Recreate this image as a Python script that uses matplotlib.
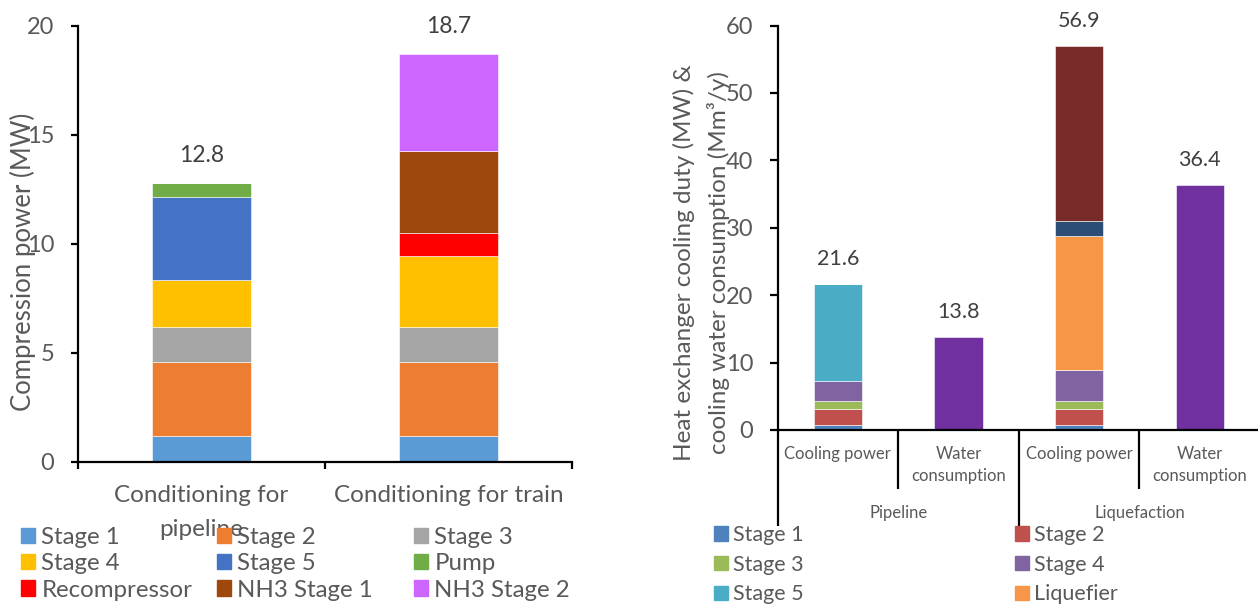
import numpy as np
import matplotlib.pyplot as plt
from matplotlib.patches import Patch
import matplotlib.transforms as mtransforms

plt.rcParams['font.family'] = ['Lato', 'DejaVu Sans']

# --- compression power (MW) ---
comp_cases = ["Conditioning for\npipeline", "Conditioning for train"]
comp_units = ["Stage 1", "Stage 2", "Stage 3", "Stage 4", "Stage 5", "Pump",
              "Recompressor", "NH3 Stage 1", "NH3 Stage 2"]
comp_pipeline = [1.15, 3.4, 1.6, 2.2, 3.8, 0.65, 0, 0, 0]
comp_train = [1.15, 3.4, 1.6, 3.3, 0, 0, 1.05, 3.75, 4.45]
comp_colors = ["#5B9BD5", "#ED7D31", "#A5A5A5", "#FFC000", "#4472C4",
               "#70AD47", "#FF0000", "#9E480E", "#CC66FF"]

# --- cooling duty (MW) and cooling water (Mm3/y) ---
hx_cases = ["Cooling power", "Water\nconsumption", "Cooling power", "Water\nconsumption"]
hx_groups = ["Pipeline", "Liquefaction"]
hx_units = ["Stage 1", "Stage 2", "Stage 3", "Stage 4", "Stage 5", "Liquefier",
            "Series 7", "Series 8"]
hx_pipeline = [0.7, 2.35, 1.2, 3.0, 14.35, 0, 0, 0]
hx_liquefaction = [0.7, 2.35, 1.2, 4.6, 0, 19.9, 2.25, 25.9]
hx_water = [13.8, 36.4]
hx_colors = ["#4F81BD", "#C0504D", "#9BBB59", "#8064A2", "#4BACC6",
             "#F79646", "#2C4D75", "#772C2A"]
water_color = "#7030A0"

tick_col = "#595959"
lab_col = "#404040"
W, H = 1258, 607

fig = plt.figure(figsize=(W / 100, H / 100), dpi=100)


def style_axes(ax):
    for s in ["top", "right"]:
        ax.spines[s].set_visible(False)
    for s in ["left", "bottom"]:
        ax.spines[s].set_linewidth(1.6)
        ax.spines[s].set_color("black")


# left panel
ax1 = fig.add_axes([77.7 / W, 1 - 461.5 / H, (572 - 77.7) / W, (461.5 - 25.6) / H])
style_axes(ax1)
x1 = np.arange(len(comp_cases))
bottom = np.zeros(len(comp_cases))
for i, name in enumerate(comp_units):
    vals = np.array([comp_pipeline[i], comp_train[i]])
    ax1.bar(x1, vals, 0.4, bottom=bottom, color=comp_colors[i],
            edgecolor="white", linewidth=0.4)
    bottom += vals
for xi, tot in zip(x1, bottom):
    ax1.annotate(f"{tot:.1f}", (xi, tot), xytext=(0, 27), textcoords="offset pixels",
                 ha="center", va="center", fontsize=16.5, color=lab_col)
ax1.set_xlim(-0.5, 1.5)
ax1.set_ylim(0, 20)
ax1.set_yticks([0, 5, 10, 15, 20])
ax1.tick_params(axis="y", direction="out", length=5, width=1.6, labelsize=17,
                labelcolor=tick_col, pad=12)
ax1.set_xticks([-0.5, 0.5, 1.5])
ax1.set_xticklabels([])
ax1.tick_params(axis="x", which="major", direction="out", length=5, width=1.6)
ax1.set_xticks(x1, comp_cases, minor=True)
ax1.tick_params(axis="x", which="minor", length=0, labelsize=17.5,
                labelcolor=tick_col, pad=17)
for t in ax1.get_xticklabels(minor=True):
    t.set_linespacing(1.75)
fig.text(23 / W, 1 - 262 / H, "Compression power (MW)", rotation=90,
         ha="center", va="center", fontsize=18.5, color=tick_col)

# left legend, three columns in row order
left_cols = [[0, 3, 6], [1, 4, 7], [2, 5, 8]]
left_x = [21, 217, 414]
for cx, idx in zip(left_x, left_cols):
    handles = [Patch(color=comp_colors[k], label=comp_units[k]) for k in idx]
    fig.legend(handles=handles, loc="upper left",
               bbox_to_anchor=(cx / W, 1 - 527 / H), frameon=False,
               fontsize=17.3, labelcolor=tick_col, handlelength=0.6,
               handleheight=0.6, handletextpad=0.25, labelspacing=0.22,
               borderpad=0, borderaxespad=0)

# right panel (category axis runs to the right edge)
ax2 = fig.add_axes([777.5 / W, 1 - 430 / H, (1260 - 777.5) / W, (430 - 25.5) / H])
style_axes(ax2)
x2 = np.arange(len(hx_cases))
cool_x = x2[[0, 2]]
water_x = x2[[1, 3]]
bottom = np.zeros(2)
for i, name in enumerate(hx_units):
    vals = np.array([hx_pipeline[i], hx_liquefaction[i]])
    ax2.bar(cool_x, vals, 0.4, bottom=bottom, color=hx_colors[i],
            edgecolor="white", linewidth=0.4)
    bottom += vals
ax2.bar(water_x, hx_water, 0.4, color=water_color, edgecolor="white", linewidth=0.4)
totals = [bottom[0], hx_water[0], bottom[1], hx_water[1]]
for xi, tot in zip(x2, totals):
    ax2.annotate(f"{tot:.1f}", (xi, tot), xytext=(0, 25), textcoords="offset pixels",
                 ha="center", va="center", fontsize=15.5, color=lab_col)
ax2.set_xlim(-0.5, 3.5)
ax2.set_ylim(0, 60)
ax2.set_yticks(range(0, 61, 10))
ax2.tick_params(axis="y", direction="out", length=5.5, width=1.6, labelsize=17,
                labelcolor=tick_col, pad=12)
ax2.set_xticks([])

# two-level category axis
tr = mtransforms.blended_transform_factory(ax2.transData, ax2.transAxes)
ax_h = 430 - 25.5
short_y = -59 / ax_h
long_y = -96 / ax_h
for xd, yl in [(-0.5, long_y), (0.5, short_y), (1.5, long_y), (2.5, short_y)]:
    ax2.plot([xd, xd], [0, yl], transform=tr, color="black", lw=1.6,
             clip_on=False, solid_capstyle="butt")
for xi, name in zip(x2, hx_cases):
    ax2.text(xi, -16 / ax_h, name, transform=tr, ha="center", va="top",
             fontsize=12, color=tick_col, linespacing=1.5)
for gi, g in enumerate(hx_groups):
    ax2.text(gi * 2 + 0.5, -83 / ax_h, g, transform=tr, ha="center", va="center",
             fontsize=12, color=tick_col)

fig.text(684 / W, 1 - 263 / H, "Heat exchanger cooling duty (MW) &", rotation=90,
         ha="center", va="center", fontsize=17.5, color=tick_col)
fig.text(719 / W, 1 - 263 / H, "cooling water consumption (Mm³/y)", rotation=90,
         ha="center", va="center", fontsize=17.5, color=tick_col)

# right legend, two columns in row order
right_cols = [[0, 2, 4], [1, 3, 5]]
right_x = [714, 1015]
for cx, idx in zip(right_x, right_cols):
    handles = [Patch(color=hx_colors[k], label=hx_units[k]) for k in idx]
    fig.legend(handles=handles, loc="upper left",
               bbox_to_anchor=(cx / W, 1 - 525 / H), frameon=False,
               fontsize=15.5, labelcolor=tick_col, handlelength=0.65,
               handleheight=0.65, handletextpad=0.25, labelspacing=0.45,
               borderpad=0, borderaxespad=0)

fig.savefig("out.png", dpi=100)
